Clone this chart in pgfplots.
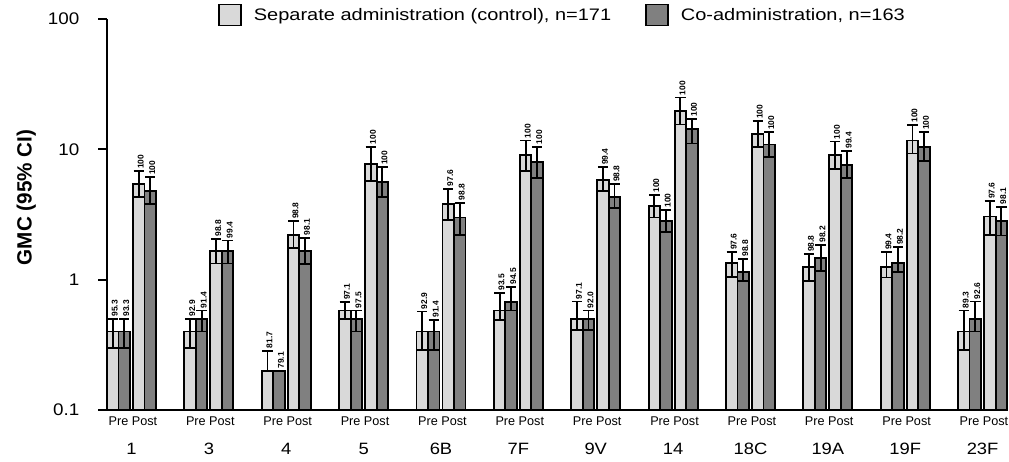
\documentclass[border=0pt]{standalone}
\usepackage{fontspec}
\setmainfont{Liberation Sans}
\newfontfamily\widefont{Liberation Sans}[FakeStretch=1.12]
\newfontfamily\widerfont{Liberation Sans}[FakeStretch=1.2]
\usepackage{pgfplots}
\usepackage{pgfplotstable}
\pgfplotsset{compat=1.18}
\definecolor{lightbar}{RGB}{217,217,217}
\definecolor{darkbar}{RGB}{128,128,128}

% g = group index, y = GMC, lo/hi = 95% CI, lab = % seroresponders
\pgfplotstableread{
g y lo hi lab
0 0.40 0.30 0.50 95.3
1 0.40 0.30 0.50 92.9
2 0.20 0.20 0.285 81.7
3 0.58 0.50 0.67 97.1
4 0.40 0.29 0.57 92.9
5 0.58 0.49 0.79 93.5
6 0.50 0.41 0.68 97.1
7 3.65 3.00 4.47 100
8 1.35 1.05 1.62 97.6
9 1.26 0.98 1.57 98.8
10 1.26 1.04 1.62 99.4
11 0.40 0.29 0.58 89.3
}\sepPre
\pgfplotstableread{
g y lo hi lab
0 0.40 0.30 0.50 93.3
1 0.50 0.40 0.58 91.4
2 0.20 0.20 0.20 79.1
3 0.50 0.40 0.58 97.5
4 0.40 0.29 0.49 91.4
5 0.67 0.58 0.88 94.5
6 0.50 0.41 0.58 92.0
7 2.80 2.31 3.43 100
8 1.15 0.98 1.44 98.8
9 1.46 1.17 1.85 98.2
10 1.34 1.14 1.77 98.2
11 0.50 0.40 0.68 92.6
}\coPre
\pgfplotstableread{
g y lo hi lab
0 5.40 4.28 6.78 100
1 1.65 1.33 2.05 98.8
2 2.20 1.75 2.80 98.8
3 7.70 5.75 10.5 100
4 3.80 2.85 5.00 97.6
5 9.00 6.80 11.7 100
6 5.85 4.80 7.30 99.4
7 19.8 15.5 25.0 100
8 13.1 10.4 16.4 100
9 9.00 7.10 11.5 100
10 11.7 9.30 15.4 100
11 3.05 2.20 4.00 97.6
}\sepPost
\pgfplotstableread{
g y lo hi lab
0 4.80 3.80 6.10 100
1 1.65 1.33 2.00 99.4
2 1.65 1.32 2.10 98.1
3 5.60 4.30 7.30 100
4 3.00 2.20 3.90 98.8
5 8.00 6.00 10.5 100
6 4.30 3.55 5.40 98.8
7 14.3 11.1 17.1 100
8 10.9 8.80 13.5 100
9 7.60 6.00 9.70 99.4
10 10.4 8.20 13.5 100
11 2.80 2.18 3.63 98.1
}\coPost

\pgfplotsset{
  mybar/.style={ybar, bar width=0.149, bar shift=0pt, draw=black, line width=1.4pt,
    legend image code/.code={\draw[##1, line width=1pt] (0pt,-7.8pt) rectangle (16.5pt,7.8pt); \path (23.5pt,0pt);},
    error bars/y dir=both, error bars/y explicit,
    error bars/error bar style={line width=1.4pt, black},
    error bars/error mark options={rotate=90, line width=1.4pt, mark size=3.9pt, black}},
  mylab/.style={draw=none, mark=none, forget plot, nodes near coords,
    point meta=explicit symbolic,
    nodes near coords style={font=\fontsize{6.3}{7}\selectfont\bfseries, xshift=1.5pt, rotate=90, anchor=west, inner sep=1.6pt, text=black}},
}

\begin{document}
\begin{tikzpicture}
\path[use as bounding box] (0,0) rectangle (756.75pt,345.75pt);
\begin{axis}[
  at={(80.25pt,38.25pt)}, anchor=south west,
  scale only axis, width=673.5pt, height=293.25pt,
  ymode=log, log origin=infty,
  ymin=0.1, ymax=100, xmin=-0.317, xmax=11.29,
  enlargelimits=false, clip=false,
  axis x line*=bottom, axis y line*=left,
  axis line style={line width=1.6pt},
  every tick/.style={line width=1.6pt, black},
  tick align=outside, major tick length=6.75pt,
  ytick={0.1,1,10,100}, yticklabels={0.1,1,10,100},
  yminorticks=false,
  yticklabel style={font=\widefont\fontsize{12.6}{14}\selectfont, xshift=-10.5pt},
  xtick={0,...,11},
  xticklabels={1,3,4,5,6B,7F,9V,14,18C,19A,19F,23F},
  x tick style={draw=none},
  xticklabel style={font=\widefont\fontsize{12.3}{14}\selectfont, anchor=center, yshift=-22.5pt},
  extra x ticks={-0.168,0.168,0.832,1.168,1.832,2.168,2.832,3.168,3.832,4.168,4.832,5.168,5.832,6.168,6.832,7.168,7.832,8.168,8.832,9.168,9.832,10.168,10.832,11.168},
  extra x tick labels={Pre,Post,Pre,Post,Pre,Post,Pre,Post,Pre,Post,Pre,Post,Pre,Post,Pre,Post,Pre,Post,Pre,Post,Pre,Post,Pre,Post},
  extra x tick style={x tick style={draw=none}, xticklabel style={font=\rmfamily\fontsize{9.5}{10}\selectfont, yshift=20.5pt}},
  /pgf/number format/assume math mode=true,
  ylabel={\bfseries GMC (95\% CI)},
  every axis y label/.style={at={(axis description cs:-0.090,0.5435)}, rotate=90, anchor=center, font=\fontsize{15.5}{17}\selectfont},
  legend columns=2,
  legend style={at={(axis description cs:0.1236,1.0102)}, anchor=west, draw=none, fill=none, inner sep=0pt,
    font=\widerfont\fontsize{12.5}{14}\selectfont,
    /tikz/every even column/.append style={column sep=23.5pt}},
]
\addplot[mybar, fill=lightbar] table[x expr=\thisrow{g}-0.2426, y=y, y error plus expr=\thisrow{hi}-\thisrow{y}, y error minus expr=\thisrow{y}-\thisrow{lo}] {\sepPre};
\addlegendentry{Separate administration (control), n=171}
\addplot[mybar, fill=darkbar] table[x expr=\thisrow{g}-0.0938, y=y, y error plus expr=\thisrow{hi}-\thisrow{y}, y error minus expr=\thisrow{y}-\thisrow{lo}] {\coPre};
\addlegendentry{Co-administration, n=163}
\addplot[mybar, fill=lightbar, forget plot] table[x expr=\thisrow{g}+0.0938, y=y, y error plus expr=\thisrow{hi}-\thisrow{y}, y error minus expr=\thisrow{y}-\thisrow{lo}] {\sepPost};
\addplot[mybar, fill=darkbar, forget plot] table[x expr=\thisrow{g}+0.2426, y=y, y error plus expr=\thisrow{hi}-\thisrow{y}, y error minus expr=\thisrow{y}-\thisrow{lo}] {\coPost};
\addplot[mylab] table[x expr=\thisrow{g}-0.2426, y=hi, meta=lab] {\sepPre};
\addplot[mylab] table[x expr=\thisrow{g}-0.0938, y=hi, meta=lab] {\coPre};
\addplot[mylab] table[x expr=\thisrow{g}+0.0938, y=hi, meta=lab] {\sepPost};
\addplot[mylab] table[x expr=\thisrow{g}+0.2426, y=hi, meta=lab] {\coPost};
\end{axis}
\end{tikzpicture}
\end{document}
